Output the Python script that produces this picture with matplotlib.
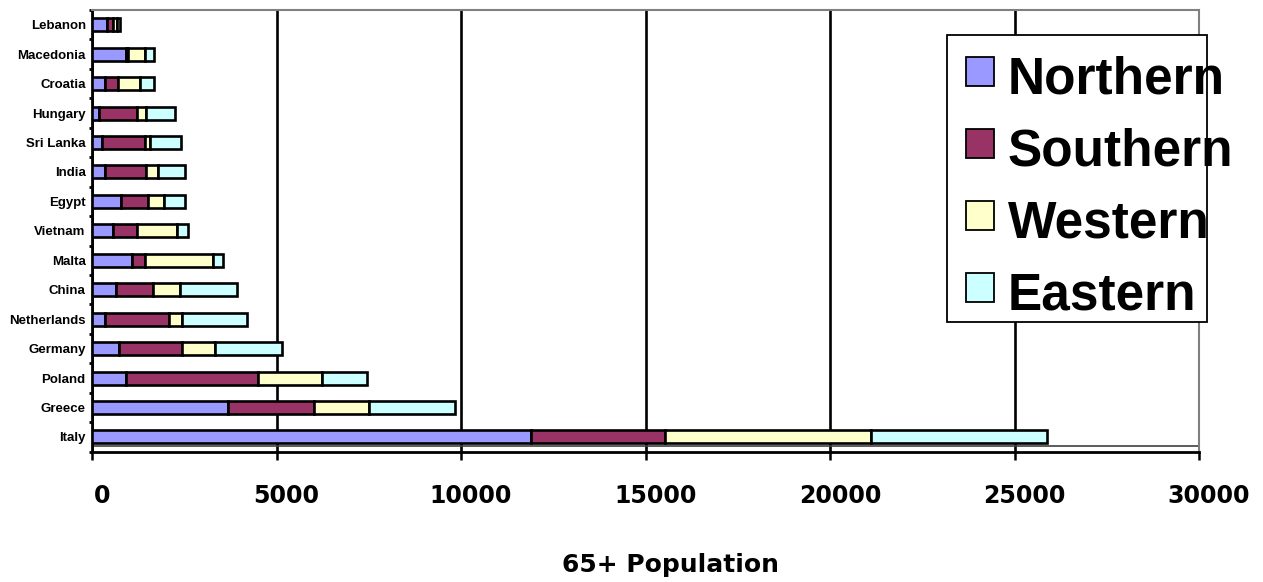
import matplotlib
matplotlib.use("Agg")
import matplotlib.pyplot as plt
import matplotlib.patches as mpatches
import matplotlib.transforms as mtransforms
import numpy as np

# Countries listed bottom to top
countries = ["Italy", "Greece", "Poland", "Germany", "Netherlands", "China",
             "Malta", "Vietnam", "Egypt", "India", "Sri Lanka", "Hungary",
             "Croatia", "Macedonia", "Lebanon"]

northern = [11900, 3690, 930, 720, 350, 640, 1080, 560, 780, 350, 270, 190, 350, 930, 420]
southern = [3620, 2320, 3560, 1720, 1740, 1020, 360, 660, 740, 1100, 1170, 1040, 360, 40, 140]
western = [5580, 1510, 1730, 880, 360, 730, 1830, 1090, 430, 340, 140, 220, 590, 470, 120]
eastern = [4770, 2320, 1230, 1830, 1760, 1550, 280, 300, 580, 730, 820, 800, 370, 230, 90]

series_names = ["Northern", "Southern", "Western", "Eastern"]
series_colors = ["#9999FF", "#993366", "#FFFFCC", "#CCFFFF"]
x_ticks = [0, 5000, 10000, 15000, 20000, 25000, 30000]
x_label = "65+ Population"

W, H = 1263, 582
fig = plt.figure(figsize=(W / 100, H / 100), dpi=100)
fig.patch.set_facecolor("white")

ax_left, ax_right, ax_top, ax_bottom = 92, 1199, 10, 451.7
ax = fig.add_axes([ax_left / W, 1 - ax_bottom / H,
                   (ax_right - ax_left) / W, (ax_bottom - ax_top) / H])

y = np.arange(len(countries))
left = np.zeros(len(countries))
for name, vals, col in zip(series_names, [northern, southern, western, eastern], series_colors):
    vals = np.array(vals, dtype=float)
    ax.barh(y, vals, left=left, height=0.44, color=col, edgecolor="black",
            linewidth=1.9, zorder=3)
    left += vals

ax.set_xlim(0, 30000)
ax.set_ylim(-0.5, len(countries) - 0.5)

# vertical gridlines
ax.set_xticks(x_ticks)
ax.xaxis.grid(True, color="black", linewidth=1.9, zorder=1)
ax.set_axisbelow(True)

# double line under the bottom row
ax.axhline(-0.32, color="#404040", linewidth=1.2, zorder=2)

for s in ["top", "right"]:
    ax.spines[s].set_color("#808080")
    ax.spines[s].set_linewidth(1.5)
for s in ["left", "bottom"]:
    ax.spines[s].set_color("black")
    ax.spines[s].set_linewidth(2.0)

ax.tick_params(axis="x", direction="out", length=6, width=1.8, pad=17,
               labelsize=17, colors="black")
ax.set_xticklabels([str(t) for t in x_ticks], fontfamily="DejaVu Sans",
                   fontweight="bold")
shift = mtransforms.ScaledTranslation(10 / 100, 0, fig.dpi_scale_trans)
for lbl in ax.get_xticklabels():
    lbl.set_transform(lbl.get_transform() + shift)

ax.set_yticks(y)
ax.set_yticklabels(countries, fontfamily="Liberation Sans", fontweight="bold",
                   fontsize=9.5)
ax.tick_params(axis="y", which="major", length=0, pad=4.5)
ax.set_yticks(np.arange(-0.5, len(countries), 1.0), minor=True)
ax.tick_params(axis="y", which="minor", direction="out", length=2.5, width=2.0)

ax.set_xlabel(x_label, fontfamily="DejaVu Sans", fontweight="bold",
              fontsize=18, va="center")
ax.xaxis.set_label_coords((670 - ax_left) / (ax_right - ax_left),
                          -(565 - ax_bottom) / (ax_bottom - ax_top))

# legend box, drawn in figure pixels
def fx(px):
    return px / W

def fy(py):
    return 1 - py / H

box = mpatches.Rectangle((fx(947), fy(322)), fx(1207) - fx(947), fy(35) - fy(322),
                         transform=fig.transFigure, facecolor="white",
                         edgecolor="black", linewidth=1.3, zorder=10)
fig.add_artist(box)
row_y = [71.7, 144, 216, 287.5]
for name, col, cy in zip(series_names, series_colors, row_y):
    sq = mpatches.Rectangle((fx(966), fy(cy + 14.5)), fx(994) - fx(966), fy(cy - 14.5) - fy(cy + 14.5),
                            transform=fig.transFigure, facecolor=col,
                            edgecolor="black", linewidth=1.3, zorder=11)
    fig.add_artist(sq)
    fig.text(fx(1008), fy(cy + 21.5), name, fontfamily="Liberation Sans",
             fontweight="bold", fontsize=37, va="baseline", ha="left", zorder=12)

fig.savefig("out.png", dpi=100, facecolor="white")
